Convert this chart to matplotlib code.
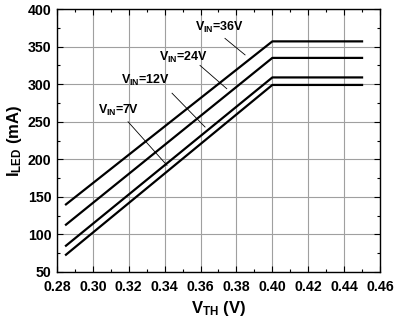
import matplotlib
matplotlib.use('Agg')
import matplotlib.pyplot as plt
from matplotlib.ticker import MultipleLocator

plt.rcParams['font.family'] = 'Liberation Sans'
plt.rcParams['font.weight'] = 'bold'
plt.rcParams['mathtext.fontset'] = 'custom'
plt.rcParams['mathtext.rm'] = 'Liberation Sans:bold'
plt.rcParams['mathtext.bf'] = 'Liberation Sans:bold'
plt.rcParams['mathtext.it'] = 'Liberation Sans:bold'

# V_TH sweep (V) and LED current (mA) per input voltage
vth = [0.285, 0.40, 0.45]
i_36v = [140, 357, 357]
i_24v = [113, 335, 335]
i_12v = [85, 309, 309]
i_7v = [73, 299, 299]

labels = [r'$\mathrm{V_{IN}}$=36V', r'$\mathrm{V_{IN}}$=24V',
          r'$\mathrm{V_{IN}}$=12V', r'$\mathrm{V_{IN}}$=7V']
# label text position and pointer start/end (data coords)
label_xy = [(0.3708, 376), (0.3505, 335), (0.3293, 305), (0.3146, 265)]
ptr_start = [(0.3736, 361), (0.3597, 325), (0.3441, 288), (0.3196, 250)]
ptr_end = [(0.3848, 339), (0.3746, 294), (0.3625, 243), (0.3413, 192)]

fig = plt.figure(figsize=(4, 3.24), dpi=100)
ax = fig.add_axes([0.1425, 0.1605, 0.8075, 0.8115])

for s in [i_36v, i_24v, i_12v, i_7v]:
    ax.plot(vth, s, color='black', lw=1.6, zorder=3)

for lab, txy, p0, p1 in zip(labels, label_xy, ptr_start, ptr_end):
    ax.text(txy[0], txy[1], lab, ha='center', va='center', fontsize=9, fontweight='bold')
    ax.plot([p0[0], p1[0]], [p0[1], p1[1]], color='black', lw=0.6, zorder=2)

ax.set_xlim(0.28, 0.46)
ax.set_ylim(50, 400)
ax.xaxis.set_major_locator(MultipleLocator(0.02))
ax.xaxis.set_minor_locator(MultipleLocator(0.01))
ax.yaxis.set_major_locator(MultipleLocator(50))
ax.yaxis.set_minor_locator(MultipleLocator(25))
ax.xaxis.set_major_formatter(plt.FormatStrFormatter('%.2f'))
ax.grid(True, which='major', color='#a0a0a0', lw=0.8)
ax.tick_params(which='both', direction='in', top=True, right=True, labelsize=10.2)
ax.tick_params(which='major', length=4, width=0.8)
ax.tick_params(which='minor', length=2.5, width=0.8)
ax.tick_params(axis='x', which='major', pad=5.5)
ax.tick_params(axis='y', which='major', pad=4)
for sp in ax.spines.values():
    sp.set_linewidth(1.0)

ax.set_xlabel(r'$\mathrm{V_{TH}}$ (V)', fontsize=12, fontweight='bold', labelpad=4)
ax.set_ylabel(r'$\mathrm{I_{LED}}$ (mA)', fontsize=12, fontweight='bold', labelpad=3)

plt.savefig('out.png', dpi=100)
